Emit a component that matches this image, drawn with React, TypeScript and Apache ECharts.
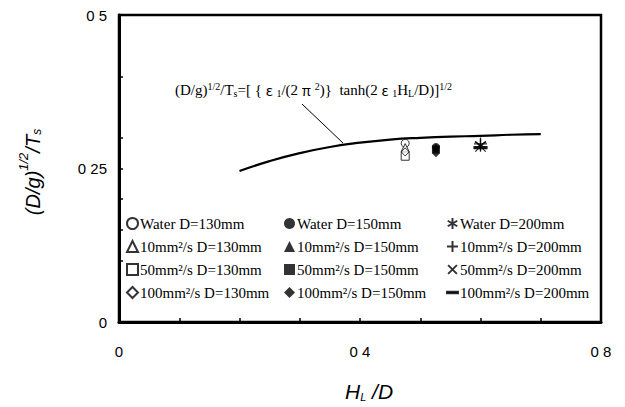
import React, { useEffect, useRef } from "react";
import * as echarts from "echarts";

// Theoretical curve (D/g)^1/2/Ts vs HL/D
const curveX = [0.2, 0.25, 0.3, 0.35, 0.4, 0.45, 0.5, 0.55, 0.6, 0.65, 0.7];
const curveY = [0.246, 0.262, 0.275, 0.285, 0.292, 0.297, 0.3, 0.302, 0.303, 0.305, 0.306];

// Experimental series
const seriesNames = [
  "Water D=130mm",
  "10mm²/s D=130mm",
  "50mm²/s D=130mm",
  "100mm²/s D=130mm",
  "Water D=150mm",
  "10mm²/s D=150mm",
  "50mm²/s D=150mm",
  "100mm²/s D=150mm",
  "Water D=200mm",
  "10mm²/s D=200mm",
  "50mm²/s D=200mm",
  "100mm²/s D=200mm",
];
const seriesX = [0.475, 0.475, 0.475, 0.475, 0.526, 0.526, 0.526, 0.526, 0.6, 0.6, 0.6, 0.6];
const seriesY = [0.291, 0.284, 0.27, 0.277, 0.285, 0.284, 0.281, 0.275, 0.288, 0.29, 0.286, 0.284];

const yTickValues = [0.1, 0.15, 0.2, 0.25, 0.3, 0.4];
const yLabelValues = [0, 0.25, 0.5];
const yLabelTexts = ["0", "0 25", "0 5"];
const xLabelValues = [0, 0.4, 0.8];
const xLabelTexts = ["0", "0 4", "0 8"];

const ASTERISK = "path://M0,0M10,10M5,0L5,10M0.67,2.5L9.33,7.5M0.67,7.5L9.33,2.5";
const PLUS = "path://M0,0M10,10M5,0L5,10M0,5L10,5";
const CROSS = "path://M0,0M10,10M1,1L9,9M1,9L9,1";
const DASH = "path://M0,0M10,10M0,4.3L10,4.3L10,5.7L0,5.7Z";

const symbols = [
  "circle", "triangle", "rect", "diamond",
  "circle", "triangle", "rect", "diamond",
  ASTERISK, PLUS, CROSS, DASH,
];
const filled = [false, false, false, false, true, true, true, true, true, true, true, true];
const lineSym = [false, false, false, false, false, false, false, false, true, true, true, true];

export default function App() {
  const ref = useRef<HTMLDivElement>(null);
  useEffect(() => {
    if (!ref.current) return;
    const chart = echarts.init(ref.current, null, { renderer: "svg" });
    const serif = "'Liberation Serif', 'DejaVu Serif', serif";
    const sans = "'Liberation Sans', Arial, sans-serif";
    const cjk = "'Noto Sans CJK JP', 'Liberation Serif', serif";

    const scatterSeries = seriesNames.map((name, i) => ({
      type: "scatter",
      name,
      data: [[seriesX[i], seriesY[i]]],
      symbol: symbols[i],
      symbolSize: lineSym[i] ? 13 : 8,
      itemStyle: lineSym[i]
        ? { color: "#000", borderColor: "#000", borderWidth: 1.3 }
        : filled[i]
        ? { color: "#000", borderColor: "#000", borderWidth: 0 }
        : { color: "#fff", borderColor: "#000", borderWidth: 1 },
      z: 3,
    }));

    const legendCommon = {
      orient: "vertical",
      itemWidth: 11,
      itemHeight: 11,
      itemGap: 8,
      padding: 0,
      selectedMode: false,
      textStyle: { fontFamily: serif, fontSize: 15, color: "#000", padding: [0, 0, 0, -3] },
    };

    const supS = { fontFamily: serif, fontSize: 10, color: "#000", verticalAlign: "top", lineHeight: 10 };
    const subS = { fontFamily: serif, fontSize: 10, color: "#000", verticalAlign: "bottom", lineHeight: 10 };
    const grS = { fontFamily: cjk, fontSize: 14, color: "#000", lineHeight: 17 };

    chart.setOption({
      animation: false,
      backgroundColor: "#fff",
      grid: {
        left: 119,
        top: 15,
        right: 24,
        bottom: 85,
        show: true,
        borderColor: "#000",
        borderWidth: 2.5,
      },
      xAxis: {
        type: "value",
        min: 0,
        max: 0.8,
        interval: 0.1,
        axisLine: { show: true, lineStyle: { color: "#000", width: 3 } },
        axisTick: { show: true, inside: true, length: 4, lineStyle: { color: "#000", width: 1.5 } },
        splitLine: { show: false },
        axisLabel: {
          customValues: xLabelValues,
          formatter: (v: number) => {
            const idx = xLabelValues.findIndex((x) => Math.abs(x - v) < 1e-6);
            return idx >= 0 ? xLabelTexts[idx] : "";
          },
          fontFamily: sans,
          fontSize: 15,
          color: "#000",
          margin: 22,
        },
      },
      yAxis: {
        type: "value",
        min: 0,
        max: 0.5,
        axisLine: { show: true, lineStyle: { color: "#000", width: 3 } },
        axisTick: {
          show: true,
          inside: true,
          length: 4,
          customValues: yTickValues,
          lineStyle: { color: "#000", width: 1.5 },
        },
        splitLine: { show: false },
        axisLabel: {
          customValues: yLabelValues,
          formatter: (v: number) => {
            const idx = yLabelValues.findIndex((x) => Math.abs(x - v) < 1e-6);
            return idx >= 0 ? yLabelTexts[idx] : "";
          },
          fontFamily: sans,
          fontSize: 15,
          color: "#000",
          margin: 12,
        },
      },
      legend: [
        { ...legendCommon, left: 126, top: 216, data: seriesNames.slice(0, 4) },
        { ...legendCommon, left: 284, top: 216, data: seriesNames.slice(4, 8) },
        { ...legendCommon, left: 446, top: 216, data: seriesNames.slice(8, 12) },
      ],
      series: [
        {
          type: "line",
          name: "theory",
          data: curveX.map((x, i) => [x, curveY[i]]),
          smooth: true,
          showSymbol: false,
          lineStyle: { color: "#000", width: 2.2 },
          z: 2,
        },
        ...scatterSeries,
      ],
      graphic: [
        {
          type: "line",
          shape: { x1: 302, y1: 104, x2: 343, y2: 143 },
          style: { stroke: "#000", lineWidth: 1 },
        },
        {
          type: "text",
          left: 175,
          top: 81,
          style: {
            text:
              "(D/g){sup|1/2}/T{sub|s}=[ { {gr|ε} {sub|1}/(2 {gr|π} {sup|2})}  tanh(2 {gr|ε} {sub|1}H{sub|L}/D)]{sup|1/2}",
            fontFamily: serif,
            fontSize: 15,
            fill: "#000",
            lineHeight: 17,
            rich: { sup: supS, sub: subS, gr: grS },
          },
        },
        {
          type: "text",
          x: 30,
          y: 172,
          rotation: Math.PI / 2,
          style: {
            text: "{n|(D/g)}{sup|1/2}{n|/T}{sub|s}",
            align: "center",
            verticalAlign: "middle",
            rich: {
              n: { fontFamily: sans, fontStyle: "italic", fontSize: 20, color: "#000", lineHeight: 26, verticalAlign: "bottom" },
              sup: { fontFamily: sans, fontStyle: "italic", fontSize: 13, color: "#000", verticalAlign: "top", lineHeight: 14 },
              sub: { fontFamily: sans, fontStyle: "italic", fontSize: 12, color: "#000", verticalAlign: "bottom", lineHeight: 12 },
            },
          },
        },
        {
          type: "text",
          left: 345,
          top: 381,
          style: {
            text: "{n|H}{sub|L}{n| /D}",
            rich: {
              n: { fontFamily: sans, fontStyle: "italic", fontSize: 21, color: "#000", lineHeight: 24, verticalAlign: "bottom" },
              sub: { fontFamily: sans, fontStyle: "italic", fontSize: 11, color: "#000", verticalAlign: "bottom", lineHeight: 8 },
            },
          },
        },
      ],
    });
    return () => chart.dispose();
  }, []);
  return (
    <div
      ref={ref}
      style={{ position: "fixed", left: 0, top: 0, width: 625, height: 407, background: "#fff" }}
    />
  );
}
